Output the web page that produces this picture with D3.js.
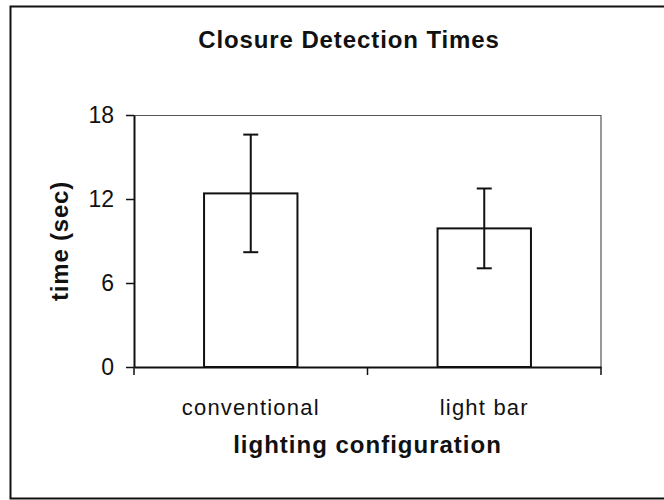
<!DOCTYPE html>
<html>
<head>
<meta charset="utf-8">
<script src="https://cdn.jsdelivr.net/npm/d3@7"></script>
<style>
  body { margin: 0; background: #fff; }
  text { font-family: "Liberation Sans", Arial, sans-serif; fill: #111; }
</style>
</head>
<body>
<div id="chart"></div>
<script>

// Data
//-----
var categories = ["conventional", "light bar"];
var meanTimes = [12.4, 9.9];
var errTimes = [4.2, 2.85];
var yTicks = [0, 6, 12, 18];

// Sizing parameters
//------------------
var svgWidth = 664;
var svgHeight = 500;

var margin = { top: 115, right: 63, bottom: 133, left: 134 };
var width = svgWidth - margin.left - margin.right;
var height = svgHeight - margin.top - margin.bottom;

var svg = d3.select("#chart")
  .append("svg")
  .attr("width", svgWidth)
  .attr("height", svgHeight);

svg.append("rect")
  .attr("width", svgWidth)
  .attr("height", svgHeight)
  .attr("fill", "#fff");

// outer chart frame (runs off the right edge)
svg.append("rect")
  .attr("x", 10.5)
  .attr("y", 6.5)
  .attr("width", 720)
  .attr("height", 492)
  .attr("fill", "none")
  .attr("stroke", "#111")
  .attr("stroke-width", 2);

// title
svg.append("text")
  .attr("x", 349)
  .attr("y", 48)
  .attr("text-anchor", "middle")
  .attr("font-size", 24)
  .attr("font-weight", "bold")
  .attr("letter-spacing", 0.9)
  .text("Closure Detection Times");

var chartGroup = svg.append("g")
  .attr("transform", `translate(${margin.left}, ${margin.top})`);

// Scales
//-------
var xScale = d3.scaleBand()
  .domain(categories)
  .range([0, width]);

var yScale = d3.scaleLinear()
  .domain([0, 18])
  .range([height, 0]);

// plot area frame (top and right)
chartGroup.append("path")
  .attr("d", `M0,0.5H${width}V${height}`)
  .attr("fill", "none")
  .attr("stroke", "#555")
  .attr("stroke-width", 1.2);

// bars
var barW = xScale.bandwidth() * 0.4;
chartGroup.selectAll(".bar")
  .data(meanTimes)
  .enter()
  .append("rect")
  .attr("class", "bar")
  .attr("x", (d, i) => xScale(categories[i]) + (xScale.bandwidth() - barW) / 2)
  .attr("y", d => yScale(d))
  .attr("width", barW)
  .attr("height", d => height - yScale(d))
  .attr("fill", "#fff")
  .attr("stroke", "#111")
  .attr("stroke-width", 2);

// error bars
var capW = 15;
var errGroup = chartGroup.selectAll(".err")
  .data(meanTimes)
  .enter()
  .append("g")
  .attr("class", "err")
  .attr("transform", (d, i) => `translate(${xScale(categories[i]) + xScale.bandwidth() / 2}, 0)`);

errGroup.append("line")
  .attr("y1", (d, i) => yScale(d + errTimes[i]))
  .attr("y2", (d, i) => yScale(d - errTimes[i]))
  .attr("stroke", "#111")
  .attr("stroke-width", 2);

errGroup.append("line")
  .attr("x1", -capW / 2).attr("x2", capW / 2)
  .attr("y1", (d, i) => yScale(d + errTimes[i]))
  .attr("y2", (d, i) => yScale(d + errTimes[i]))
  .attr("stroke", "#111")
  .attr("stroke-width", 2);

errGroup.append("line")
  .attr("x1", -capW / 2).attr("x2", capW / 2)
  .attr("y1", (d, i) => yScale(d - errTimes[i]))
  .attr("y2", (d, i) => yScale(d - errTimes[i]))
  .attr("stroke", "#111")
  .attr("stroke-width", 2);

// Axes
//-----
var leftAxis = d3.axisLeft(yScale)
  .tickValues(yTicks)
  .tickSize(8)
  .tickSizeOuter(0)
  .tickPadding(12);

var yAxis = chartGroup.append("g")
  .call(leftAxis);
yAxis.select(".domain").attr("stroke", "#111").attr("stroke-width", 2);
yAxis.selectAll(".tick line").attr("stroke", "#111").attr("stroke-width", 1.5);
yAxis.selectAll("text")
  .attr("font-size", 23)
  .attr("font-family", "Liberation Sans, Arial, sans-serif")
  .attr("fill", "#111");

var bottomAxis = d3.axisBottom(xScale)
  .tickSize(0)
  .tickSizeOuter(0)
  .tickPadding(32);

var xAxis = chartGroup.append("g")
  .attr("transform", `translate(0, ${height})`)
  .call(bottomAxis);
xAxis.select(".domain").attr("stroke", "#111").attr("stroke-width", 2);
xAxis.selectAll("text")
  .attr("font-size", 22)
  .attr("letter-spacing", 1.2)
  .attr("font-family", "Liberation Sans, Arial, sans-serif")
  .attr("fill", "#111");

// category boundary ticks
var bounds = categories.map(c => xScale(c)).concat([width]);
xAxis.selectAll(".bound")
  .data(bounds)
  .enter()
  .append("line")
  .attr("class", "bound")
  .attr("x1", d => d).attr("x2", d => d)
  .attr("y1", 0).attr("y2", 8)
  .attr("stroke", "#111")
  .attr("stroke-width", 1.5);

// axis titles
svg.append("text")
  .attr("transform", `translate(68, ${margin.top + height / 2}) rotate(-90)`)
  .attr("text-anchor", "middle")
  .attr("font-size", 24)
  .attr("font-weight", "bold")
  .attr("letter-spacing", 0.8)
  .text("time (sec)");

svg.append("text")
  .attr("x", margin.left + width / 2)
  .attr("y", 453)
  .attr("text-anchor", "middle")
  .attr("font-size", 24)
  .attr("font-weight", "bold")
  .attr("letter-spacing", 1.0)
  .text("lighting configuration");

</script>
</body>
</html>
